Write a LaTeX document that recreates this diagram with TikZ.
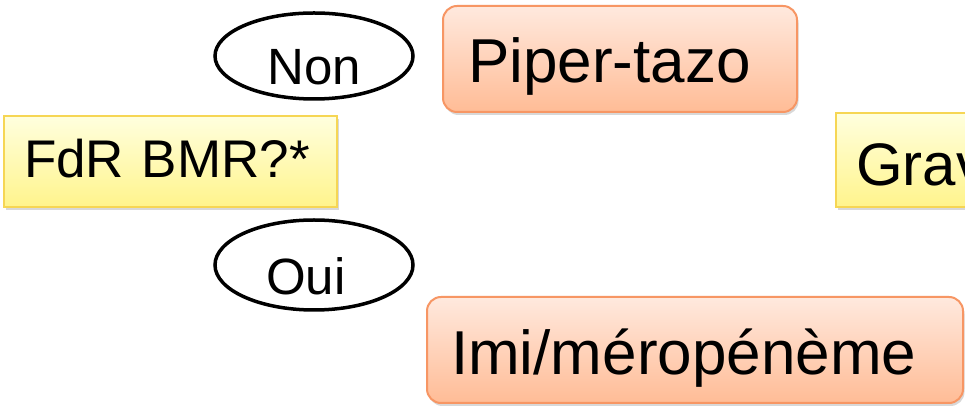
\documentclass[tikz,border=0pt]{standalone}
\usepackage{fontspec}
\setmainfont{Liberation Sans}
\usetikzlibrary{shapes.geometric,shadows}
\definecolor{ytop}{RGB}{255,255,222}
\definecolor{ybot}{RGB}{255,244,140}
\definecolor{yedge}{RGB}{246,214,84}
\definecolor{otop}{RGB}{255,233,222}
\definecolor{obot}{RGB}{255,188,150}
\definecolor{oedge}{RGB}{247,150,100}
\tikzset{
  boxshadow/.style={drop shadow={opacity=0.3, shadow xshift=1.5pt, shadow yshift=-3pt}},
  ybox/.style={rectangle, draw=yedge, line width=2pt, top color=ytop, bottom color=ybot,
    align=left, inner ysep=0pt, text depth=0pt, boxshadow},
  obox/.style={rectangle, draw=oedge, line width=2pt, top color=otop, bottom color=obot,
    rounded corners=14pt, align=left, inner ysep=0pt, text depth=0pt, boxshadow},
  oval/.style={ellipse, draw=black, line width=3.5pt, inner sep=0pt, fill=white, text depth=0pt},
}
\begin{document}
\begin{tikzpicture}[x=1pt, y=1pt]
\clip (0,0) rectangle (965,406);
\fill[white] (0,0) rectangle (965,406);

\node[ybox, font=\fontsize{53}{60}\selectfont, inner xsep=20pt, text width=293pt,
      minimum height=91pt, text height=33pt] (fdr) at (170.5,244.5) {FdR BMR?*};

\node[ybox, font=\fontsize{60}{70}\selectfont, inner xsep=20pt, text width=360pt,
      minimum height=94pt, text height=52pt] (grav) at (1036,246) {Grav};

\node[obox, font=\fontsize{62}{70}\selectfont, inner xsep=25pt, text width=304pt,
      minimum height=106pt, text height=48pt] (piper) at (620,347) {Piper-tazo};

\node[obox, font=\fontsize{62}{72}\selectfont, inner xsep=24pt, text width=488pt,
      minimum height=106pt, text height=50pt] (imi) at (695,56) {Imi/méropénème};

\node[oval, font=\fontsize{51}{60}\selectfont, minimum width=198pt, minimum height=86pt,
      text height=58pt] (non) at (314,350) {Non};

\node[oval, font=\fontsize{51}{60}\selectfont, minimum width=198pt, minimum height=90pt,
      text height=60pt, text width=96pt, align=left] (oui) at (314,141) {Oui};
\end{tikzpicture}
\end{document}
